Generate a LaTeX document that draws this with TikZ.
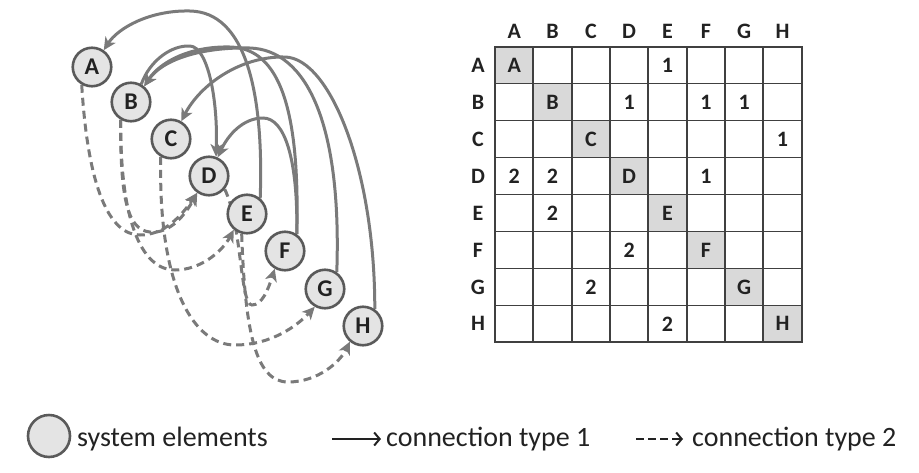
\documentclass[tikz,border=0pt]{standalone}
\usepackage{fontspec}
\setmainfont{Carlito}
\usetikzlibrary{arrows.meta,backgrounds}
\definecolor{edgegray}{HTML}{7A7A7A}
\definecolor{nodeborder}{HTML}{5A5A5A}
\definecolor{nodefill}{HTML}{E4E4E4}
\definecolor{gridcol}{HTML}{404040}
\definecolor{diagfill}{HTML}{D9D9D9}
\definecolor{txt}{HTML}{222222}
\begin{document}
\begin{tikzpicture}[x=1pt,y=-1pt,
 elem/.style={circle,draw=nodeborder,line width=2.6pt,fill=nodefill,minimum size=38.5pt,inner sep=0pt,font=\fontsize{24}{24}\selectfont\bfseries,text=txt},
 conn1/.style={draw=edgegray,line width=3pt,-{Stealth[length=12.5pt,width=12pt,inset=3.5pt]}},
 conn2/.style={conn1,dash pattern=on 8pt off 5pt},
 cell/.style={draw=gridcol,line width=1.7pt,minimum width=38.33pt,minimum height=36.95pt,inner sep=0pt},
 diag/.style={cell,fill=diagfill},
 lab/.style={font=\fontsize{22}{22}\selectfont\bfseries,text=txt,inner sep=0pt},
 legtext/.style={font=\fontsize{28}{28}\selectfont,text=txt,anchor=base west,inner sep=0pt},
 legarrow/.style={draw=txt,line width=2pt,-{Straight Barb[length=5.5pt,width=13pt]}}
]
\useasboundingbox (0,0) rectangle (919,472);
% graph nodes
\node[elem] (A) at (92,67) {A};
\node[elem] (B) at (131,102) {B};
\node[elem] (C) at (171,139) {C};
\node[elem] (D) at (209,176) {D};
\node[elem] (E) at (247,214) {E};
\node[elem] (F) at (285,251) {F};
\node[elem] (G) at (325,289) {G};
\node[elem] (H) at (363,326) {H};
\begin{pgfonlayer}{background}
% type 1
\draw[conn1] (E.50) .. controls (264,90) and (245,12) .. (190,11) .. controls (150,10) and (118,28) .. (A.55);
\draw[conn1] (B.60) .. controls (150,60) and (172,45) .. (190,46) .. controls (208,47) and (218,100) .. (D.70);
\draw[conn1] (F.55) .. controls (298,160) and (285,118) .. (263,118) .. controls (243,118) and (228,135) .. (D.65);
\draw[conn1] (F.55) .. controls (300,110) and (280,48) .. (230,47) .. controls (190,46) and (160,62) .. (B.50);
\draw[conn1] (G.55) .. controls (342,120) and (305,50) .. (250,48) .. controls (200,47) and (162,60) .. (B.50);
\draw[conn1] (H.55) .. controls (375,170) and (330,58) .. (285,57) .. controls (240,56) and (200,85) .. (C.60);
% type 2
\draw[conn2] (A.240) .. controls (88,190) and (110,235) .. (140,235) .. controls (165,235) and (182,215) .. (D.235);
\draw[conn2] (B.240) .. controls (120,200) and (128,230) .. (150,232) .. controls (170,234) and (185,215) .. (D.235);
\draw[conn2] (B.240) .. controls (120,230) and (145,270) .. (175,270) .. controls (200,270) and (222,252) .. (E.230);
\draw[conn2] (C.240) .. controls (158,290) and (195,345) .. (235,345) .. controls (272,345) and (298,325) .. (G.240);
\draw[conn2] (D.320) .. controls (242,225) and (240,305) .. (252,305) .. controls (262,305) and (268,290) .. (F.240);
\draw[conn2] (E.255) .. controls (245,330) and (255,382) .. (288,382) .. controls (318,382) and (340,362) .. (H.230);
\end{pgfonlayer}
% matrix
\foreach \i in {0,...,7} {
  \foreach \j in {0,...,7} {
    \pgfmathsetmacro\cx{514.17+38.33*\j}
    \pgfmathsetmacro\cy{65.17+36.95*\i}
    \ifnum\i=\j
      \node[diag] (c-\i-\j) at (\cx,\cy) {};
    \else
      \node[cell] (c-\i-\j) at (\cx,\cy) {};
    \fi
  }
}
\foreach \L [count=\k from 0] in {A,B,C,D,E,F,G,H} {
  \node[lab] (col-\L) at ({514.17+38.33*\k},31.7) {\L};
  \node[lab] (row-\L) at (478,{65.17+36.95*\k}) {\L};
  \node[lab] (d-\L) at (c-\k-\k) {\L};
}
\node[lab] (v04) at (c-0-4) {1};
\node[lab] (v13) at (c-1-3) {1};
\node[lab] (v15) at (c-1-5) {1};
\node[lab] (v16) at (c-1-6) {1};
\node[lab] (v27) at (c-2-7) {1};
\node[lab] (v30) at (c-3-0) {2};
\node[lab] (v31) at (c-3-1) {2};
\node[lab] (v35) at (c-3-5) {1};
\node[lab] (v41) at (c-4-1) {2};
\node[lab] (v53) at (c-5-3) {2};
\node[lab] (v62) at (c-6-2) {2};
\node[lab] (v74) at (c-7-4) {2};
% legend
\node[elem,minimum size=42pt] (legc) at (49,436) {};
\node[legtext] (legt1) at (77,446) {system elements};
\coordinate (l1s) at (332,439);
\coordinate (l1e) at (381,439);
\draw[legarrow] (l1s) -- (l1e);
\node[legtext] (legt2) at (386,446) {connection type 1};
\coordinate (l2s) at (636,439);
\coordinate (l2e) at (683,439);
\draw[legarrow,dash pattern=on 8pt off 4pt] (l2s) -- (l2e);
\node[legtext] (legt3) at (692,446) {connection type 2};
\end{tikzpicture}
\end{document}
